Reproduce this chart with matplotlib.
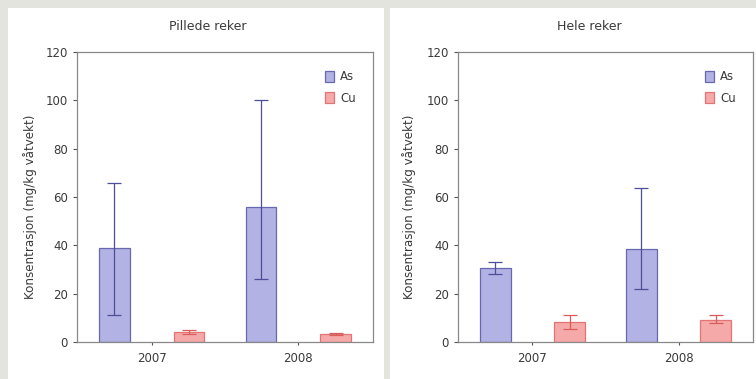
import matplotlib
matplotlib.use("Agg")
import matplotlib.pyplot as plt
import numpy as np
from matplotlib.patches import Rectangle

plt.rcParams['font.family'] = ['DejaVu Sans']

years = ['2007', '2008']
series = ['As', 'Cu']

# Pillede reker
pill_as = [39, 56]
pill_as_lo = [28, 30]
pill_as_hi = [27, 44]
pill_cu = [4.0, 3.2]
pill_cu_lo = [0.8, 0.5]
pill_cu_hi = [0.8, 0.5]

# Hele reker
hele_as = [30.6, 38.6]
hele_as_lo = [2.6, 16.6]
hele_as_hi = [2.4, 25.0]
hele_cu = [8.3, 9.2]
hele_cu_lo = [2.8, 1.2]
hele_cu_hi = [2.7, 1.8]

titles = ['Pillede reker', 'Hele reker']
ylabel = 'Konsentrasjon (mg/kg våtvekt)'

W, H = 756, 379
fig = plt.figure(figsize=(W / 100, H / 100), dpi=100)
fig.patch.set_facecolor('#e4e4df')

# white panels behind each chart
for px0, px1 in [(8, 384), (390, 756)]:
    fig.patches.append(Rectangle((px0 / W, 0), (px1 - px0) / W, (H - 8) / H,
                                 transform=fig.transFigure, facecolor='white',
                                 edgecolor='none', zorder=-10))

as_face, as_edge = '#b2b2e4', '#6868b0'
cu_face, cu_edge = '#f6a9a9', '#e27474'
txt = '#3a3a3a'

panels = [
    (77, 373, pill_as, pill_as_lo, pill_as_hi, pill_cu, pill_cu_lo, pill_cu_hi, 208, 30),
    (458, 753, hele_as, hele_as_lo, hele_as_hi, hele_cu, hele_cu_lo, hele_cu_hi, 589, 409),
]

x = np.arange(len(years))
bw = 0.21
off = 0.255

for i, (l, r, a, alo, ahi, c, clo, chi, tx, lx) in enumerate(panels):
    ax = fig.add_axes([l / W, (H - 342) / H, (r - l) / W, 290 / H])
    ax.set_facecolor('white')
    ax.bar(x - off, a, bw, color=as_face, edgecolor=as_edge, linewidth=0.9,
           label=series[0], zorder=2)
    ax.bar(x + off, c, bw, color=cu_face, edgecolor=cu_edge, linewidth=0.9,
           label=series[1], zorder=2)
    ax.errorbar(x - off, a, yerr=[alo, ahi], fmt='none', ecolor='#4e4e98',
                elinewidth=0.9, capsize=5, capthick=0.9, zorder=3)
    ax.errorbar(x + off, c, yerr=[clo, chi], fmt='none', ecolor='#d85c5c',
                elinewidth=0.9, capsize=5, capthick=0.9, zorder=3)

    ax.set_xlim(-0.51, 1.51)
    ax.set_ylim(0, 120)
    ax.set_yticks(np.arange(0, 121, 20))
    ax.set_xticks(x)
    ax.set_xticklabels(years)
    ax.tick_params(axis='both', colors='#555555', labelcolor=txt, labelsize=8.5,
                   length=3, width=0.8)
    ax.tick_params(axis='x', length=2, pad=5)
    for s in ax.spines.values():
        s.set_color('#888888')
        s.set_linewidth(0.9)

    leg = ax.legend(loc='upper right', bbox_to_anchor=(0.97, 0.965), frameon=False,
                    fontsize=8.5, handlelength=0.8, handleheight=1.0,
                    handletextpad=0.5, labelspacing=0.7, borderaxespad=0.3)
    for t in leg.get_texts():
        t.set_color(txt)

    fig.text(tx / W, (H - 27) / H, titles[i], ha='center', va='center',
             fontsize=9, color=txt)
    fig.text(lx / W, (H - 207) / H, ylabel, ha='center', va='center',
             rotation=90, fontsize=8.6, color=txt)

fig.savefig('out.png', dpi=100, facecolor=fig.get_facecolor())
